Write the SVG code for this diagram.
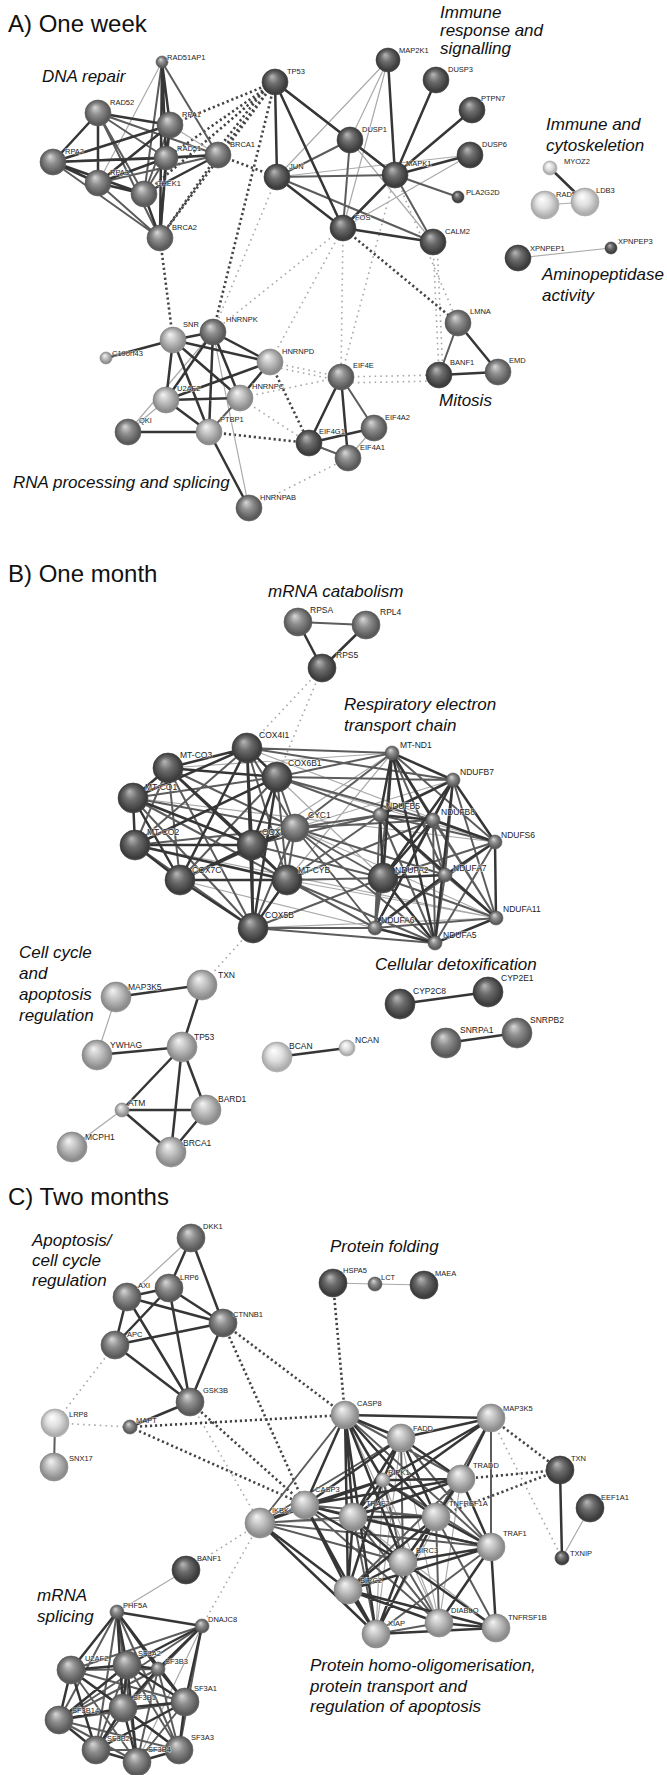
<svg xmlns="http://www.w3.org/2000/svg" width="667" height="1775" viewBox="0 0 667 1775">
<defs>
<radialGradient id="gd" cx="0.5" cy="0.5" r="0.55" fx="0.38" fy="0.28"><stop offset="0" stop-color="#b8b8b8"/><stop offset="0.4" stop-color="#6c6c6c"/><stop offset="0.85" stop-color="#3a3a3a"/><stop offset="1" stop-color="#555"/></radialGradient>
<radialGradient id="gm" cx="0.5" cy="0.5" r="0.55" fx="0.38" fy="0.28"><stop offset="0" stop-color="#d8d8d8"/><stop offset="0.4" stop-color="#8e8e8e"/><stop offset="0.85" stop-color="#575757"/><stop offset="1" stop-color="#707070"/></radialGradient>
<radialGradient id="gl" cx="0.5" cy="0.5" r="0.55" fx="0.38" fy="0.28"><stop offset="0" stop-color="#f4f4f4"/><stop offset="0.45" stop-color="#bdbdbd"/><stop offset="0.85" stop-color="#8a8a8a"/><stop offset="1" stop-color="#a0a0a0"/></radialGradient>
<radialGradient id="gw" cx="0.5" cy="0.5" r="0.55" fx="0.38" fy="0.28"><stop offset="0" stop-color="#ffffff"/><stop offset="0.45" stop-color="#e0e0e0"/><stop offset="0.85" stop-color="#ababab"/><stop offset="1" stop-color="#c0c0c0"/></radialGradient>
</defs>
<style>
text{font-family:"Liberation Sans",Arial,sans-serif;fill:#222;font-size:7.5px}
g[id^="a-"] text,g[id^="b-"] text,g[id^="c-"] text{stroke:#fff;stroke-width:1.4px;stroke-opacity:0.55;paint-order:stroke}
.lb text{font-size:8.5px}
.it{font-size:17px;font-style:italic;fill:#111}
.ti{font-size:24px;fill:#111}
.gd{fill:url(#gd);stroke:#3a3a3a;stroke-width:0.6}
.gm{fill:url(#gm);stroke:#555;stroke-width:0.6}
.gl{fill:url(#gl);stroke:#808080;stroke-width:0.6}
.gw{fill:url(#gw);stroke:#a0a0a0;stroke-width:0.6}
path{fill:none}
.s1{stroke:#363636;stroke-width:2.5}
.s2{stroke:#5c5c5c;stroke-width:2}
.s3{stroke:#aaaaaa;stroke-width:1.2}
.d1{stroke:#444;stroke-width:2.6;stroke-dasharray:2.2 2.8}
.d2{stroke:#a8a8a8;stroke-width:1.6;stroke-dasharray:1.6 4}
</style>
<rect width="667" height="1775" fill="#fff"/>
<g id="titles">
<text class="ti" x="8" y="32">A) One week</text>
<text class="ti" x="8" y="582">B) One month</text>
<text class="ti" x="8" y="1205">C) Two months</text>
<text class="it" x="42" y="82">DNA repair</text>
<text class="it" x="440" y="18">Immune</text>
<text class="it" x="440" y="36">response and</text>
<text class="it" x="440" y="54">signalling</text>
<text class="it" x="546" y="130">Immune and</text>
<text class="it" x="546" y="151">cytoskeletion</text>
<text class="it" x="542" y="280">Aminopeptidase</text>
<text class="it" x="542" y="301">activity</text>
<text class="it" x="439" y="406">Mitosis</text>
<text class="it" x="13" y="488">RNA processing and splicing</text>
<text class="it" x="268" y="597">mRNA catabolism</text>
<text class="it" x="344" y="710">Respiratory electron</text>
<text class="it" x="344" y="731">transport chain</text>
<text class="it" x="19" y="958">Cell cycle</text>
<text class="it" x="19" y="979">and</text>
<text class="it" x="19" y="1000">apoptosis</text>
<text class="it" x="19" y="1021">regulation</text>
<text class="it" x="375" y="970">Cellular detoxification</text>
<text class="it" x="32" y="1246">Apoptosis/</text>
<text class="it" x="32" y="1266">cell cycle</text>
<text class="it" x="32" y="1286">regulation</text>
<text class="it" x="330" y="1252">Protein folding</text>
<text class="it" x="37" y="1601">mRNA</text>
<text class="it" x="37" y="1622">splicing</text>
<text class="it" x="310" y="1671">Protein homo-oligomerisation,</text>
<text class="it" x="310" y="1692">protein transport and</text>
<text class="it" x="310" y="1712">regulation of apoptosis</text>
</g>
<g id="connectors">
<!-- A -->
<path class="d2" d="M277 177L213 332M343 228L213 332M343 228L270 362M395 175L341 377M433 242L439 375M437 242L443 375M395 175L458 323M343 228L341 377M270 362L341 377M270 366L341 381M240 398L341 377M240 398L309 443M249 508L348 458M341 377L439 375M341 383L439 381"/>
<path class="d1" d="M218 155L160 238M275 82L170 125M275 82L166 158M275 82L218 155M272 80L215 153M275 82L144 194M275 82L160 238M218 155L277 177M160 238L173 340M275 82L213 332M343 228L458 323M270 362L309 443M209 432L309 443"/>
<path class="s3" d="M162 62L98 183M170 125L218 155M277 177L388 60M350 140L388 60M388 60L343 228M470 155L343 228M277 177L470 155M350 140L433 242M545 205L585 202M518 258L611 248M374 428L348 458M166 400L128 432M213 332L249 508M213 332L128 432"/>
<path class="s2" d="M162 62L218 155M162 62L144 194M98 113L166 158M98 113L144 194M98 113L218 155M98 113L160 238M170 125L144 194M170 125L160 238M53 162L160 238M53 162L218 155M166 158L144 194M98 183L160 238M98 183L218 155M275 82L395 175M277 177L395 175M277 177L350 140M350 140L343 228M458 197L395 175M395 175L433 242M277 177L433 242M458 323L439 375M341 377L374 428M309 443L348 458M240 398L209 432"/>
<path class="s1" d="M162 62L170 125M162 62L166 158M162 62L160 238M98 113L170 125M98 113L53 162M98 113L98 183M170 125L53 162M170 125L98 183M170 125L166 158M53 162L98 183M53 162L166 158M53 162L144 194M166 158L218 155M166 158L160 238M166 158L98 183M98 183L144 194M144 194L160 238M144 194L218 155M275 82L277 177M275 82L343 228M275 82L350 140M277 177L343 228M350 140L395 175M388 60L395 175M436 80L395 175M472 110L395 175M470 155L395 175M395 175L343 228M343 228L433 242M550 168L585 202M458 323L498 372M439 375L498 372M341 377L309 443M341 377L348 458M309 443L374 428M173 340L106 358M173 340L213 332M173 340L270 362M173 340L166 400M173 340L240 398M173 340L209 432M213 332L270 362M213 332L166 400M213 332L240 398M213 332L209 432M270 362L166 400M270 362L240 398M166 400L240 398M166 400L209 432M128 432L209 432M209 432L249 508"/>
<!-- B -->
<path class="d2" d="M322 668L247 748M322 668L277 777M253 928L202 985"/>
<path class="s3" d="M247 748L495 842M277 777L495 842M168 768L392 753M133 798L495 842M295 828L496 918M295 828L453 780M287 880L496 918M287 880L392 753M253 928L496 918M135 845L496 918M180 880L435 943M252 845L392 753M277 777L383 878M116 997L97 1055M122 1110L72 1147"/>
<path class="s2" d="M298 622L366 625M247 748L295 828M247 748L135 845M247 748L287 880M168 768L295 828M168 768L135 845M168 768L180 880M168 768L253 928M277 777L133 798M277 777L295 828M277 777L180 880M277 777L287 880M133 798L295 828M133 798L287 880M133 798L253 928M295 828L135 845M295 828L287 880M295 828L253 928M135 845L253 928M252 845L287 880M392 753L495 842M392 753L445 875M392 753L496 918M392 753L375 928M453 780L445 875M453 780L496 918M453 780L375 928M380 815L495 842M380 815L445 875M380 815L375 928M380 815L435 943M433 820L445 875M433 820L496 918M433 820L435 943M495 842L383 878M495 842L375 928M495 842L435 943M383 878L496 918M383 878L375 928M445 875L496 918M445 875L435 943M496 918L375 928M247 748L392 753M247 748L453 780M277 777L392 753M277 777L453 780M277 777L380 815M277 777L433 820M295 828L392 753M295 828L380 815M295 828L433 820M295 828L383 878M295 828L445 875M295 828L375 928M295 828L435 943M287 880L380 815M287 880L383 878M287 880L375 928M287 880L435 943M287 880L433 820M253 928L375 928M253 928L435 943M253 928L383 878M252 845L380 815M252 845L383 878"/>
<path class="s1" d="M298 622L322 668M366 625L322 668M247 748L168 768M247 748L277 777M247 748L133 798M247 748L252 845M247 748L180 880M247 748L253 928M168 768L277 777M168 768L133 798M168 768L252 845M168 768L287 880M277 777L135 845M277 777L252 845M277 777L253 928M133 798L135 845M133 798L252 845M133 798L180 880M295 828L252 845M295 828L180 880M135 845L252 845M135 845L180 880M135 845L287 880M252 845L180 880M252 845L253 928M180 880L287 880M180 880L253 928M287 880L253 928M392 753L453 780M392 753L380 815M392 753L433 820M392 753L383 878M392 753L435 943M453 780L380 815M453 780L433 820M453 780L495 842M453 780L383 878M453 780L435 943M380 815L433 820M380 815L383 878M380 815L496 918M433 820L495 842M433 820L383 878M433 820L375 928M495 842L445 875M495 842L496 918M383 878L445 875M383 878L435 943M445 875L375 928M496 918L435 943M375 928L435 943M116 997L202 985M202 985L182 1047M97 1055L182 1047M182 1047L122 1110M182 1047L206 1110M182 1047L171 1152M122 1110L206 1110M122 1110L171 1152M206 1110L171 1152M277 1057L347 1048M400 1004L488 992M446 1043L517 1033"/>
<!-- C -->
<path class="d2" d="M115 1345L55 1423M55 1423L130 1427M190 1402L260 1523M491 1418L562 1558M260 1523L186 1570M260 1523L202 1626"/>
<path class="d1" d="M130 1427L345 1415M130 1427L305 1505M223 1323L345 1415M223 1323L305 1505M190 1402L305 1505M333 1283L345 1415M491 1418L560 1470M461 1479L560 1470M436 1517L560 1470"/>
<path class="s3" d="M191 1238L127 1297M333 1283L375 1284M375 1284L424 1285M590 1508L562 1558M186 1570L117 1612M345 1415L439 1623M401 1438L376 1634M401 1438L439 1623M383 1480L439 1623M383 1480L376 1634M353 1517L496 1628M260 1523L436 1517M461 1479L376 1634M461 1479L439 1623M202 1626L137 1762"/>
<path class="s2" d="M55 1423L54 1467M345 1415L461 1479M345 1415L491 1547M345 1415L260 1523M401 1438L260 1523M401 1438L403 1562M401 1438L491 1547M491 1418L436 1517M491 1418L491 1547M461 1479L403 1562M461 1479L348 1590M383 1480L403 1562M383 1480L491 1547M305 1505L436 1517M305 1505L439 1623M305 1505L491 1547M353 1517L376 1634M353 1517L439 1623M353 1517L260 1523M436 1517L439 1623M436 1517L496 1628M260 1523L403 1562M260 1523L491 1547M491 1547L376 1634M403 1562L439 1623M376 1634L439 1623M117 1612L59 1720M117 1612L96 1750M117 1612L179 1750M117 1612L137 1762M202 1626L71 1670M202 1626L123 1708M202 1626L179 1750M202 1626L59 1720M71 1670L158 1669M71 1670L185 1702M71 1670L137 1762M71 1670L179 1750M127 1665L96 1750M127 1665L179 1750M158 1669L179 1750M158 1669L96 1750M158 1669L59 1720M158 1669L137 1762M185 1702L59 1720M185 1702L137 1762M59 1720L137 1762M59 1720L179 1750M96 1750L179 1750"/>
<path class="s1" d="M191 1238L169 1288M191 1238L223 1323M127 1297L169 1288M127 1297L223 1323M127 1297L115 1345M127 1297L190 1402M169 1288L115 1345M169 1288L223 1323M169 1288L190 1402M115 1345L223 1323M115 1345L190 1402M223 1323L190 1402M190 1402L130 1427M560 1470L562 1558M345 1415L491 1418M345 1415L401 1438M345 1415L383 1480M345 1415L305 1505M345 1415L353 1517M345 1415L436 1517M345 1415L403 1562M345 1415L348 1590M345 1415L376 1634M401 1438L461 1479M401 1438L383 1480M401 1438L353 1517M401 1438L436 1517M401 1438L305 1505M401 1438L491 1418M491 1418L461 1479M491 1418L353 1517M491 1418L383 1480M461 1479L383 1480M461 1479L353 1517M461 1479L436 1517M461 1479L491 1547M461 1479L305 1505M383 1480L305 1505M383 1480L353 1517M383 1480L436 1517M383 1480L260 1523M383 1480L348 1590M305 1505L353 1517M305 1505L260 1523M305 1505L403 1562M305 1505L348 1590M305 1505L376 1634M353 1517L436 1517M353 1517L403 1562M353 1517L348 1590M353 1517L491 1547M436 1517L491 1547M436 1517L403 1562M436 1517L376 1634M436 1517L348 1590M260 1523L348 1590M260 1523L376 1634M491 1547L403 1562M491 1547L348 1590M491 1547L496 1628M403 1562L348 1590M403 1562L376 1634M403 1562L496 1628M348 1590L376 1634M348 1590L439 1623M376 1634L496 1628M439 1623L496 1628M491 1547L439 1623M348 1590L496 1628M117 1612L202 1626M117 1612L71 1670M117 1612L127 1665M117 1612L158 1669M117 1612L123 1708M117 1612L185 1702M202 1626L127 1665M202 1626L185 1702M202 1626L158 1669M71 1670L127 1665M71 1670L123 1708M71 1670L59 1720M71 1670L96 1750M127 1665L158 1669M127 1665L185 1702M127 1665L123 1708M127 1665L59 1720M127 1665L137 1762M158 1669L185 1702M158 1669L123 1708M185 1702L123 1708M185 1702L179 1750M185 1702L96 1750M123 1708L59 1720M123 1708L96 1750M123 1708L137 1762M123 1708L179 1750M59 1720L96 1750M96 1750L137 1762M137 1762L179 1750"/>
</g>
<g id="nodesA">
<g id="a-RAD51AP1"><circle class="gm" cx="162" cy="62" r="6"/><text x="167" y="60">RAD51AP1</text></g>
<g id="a-RAD52"><circle class="gm" cx="98" cy="113" r="13"/><text x="110" y="105">RAD52</text></g>
<g id="a-RPA2"><circle class="gm" cx="53" cy="162" r="13"/><text x="65" y="154">RPA2</text></g>
<g id="a-RPA3"><circle class="gm" cx="98" cy="183" r="13"/><text x="110" y="175">RPA3</text></g>
<g id="a-CHEK1"><circle class="gm" cx="144" cy="194" r="13"/><text x="156" y="186">CHEK1</text></g>
<g id="a-RPA1"><circle class="gm" cx="170" cy="125" r="13"/><text x="182" y="117">RPA1</text></g>
<g id="a-BRCA1"><circle class="gm" cx="218" cy="155" r="13"/><text x="230" y="147">BRCA1</text></g>
<g id="a-RAD51"><circle class="gm" cx="166" cy="158" r="12"/><text x="177" y="151">RAD51</text></g>
<g id="a-BRCA2"><circle class="gm" cx="160" cy="238" r="13"/><text x="172" y="230">BRCA2</text></g>
<g id="a-TP53"><circle class="gd" cx="275" cy="82" r="13"/><text x="287" y="74">TP53</text></g>
<g id="a-JUN"><circle class="gd" cx="277" cy="177" r="13"/><text x="289" y="169">JUN</text></g>
<g id="a-MAP2K1"><circle class="gd" cx="388" cy="60" r="12"/><text x="399" y="53">MAP2K1</text></g>
<g id="a-DUSP3"><circle class="gd" cx="436" cy="80" r="13"/><text x="448" y="72">DUSP3</text></g>
<g id="a-PTPN7"><circle class="gd" cx="472" cy="110" r="13"/><text x="481" y="101">PTPN7</text></g>
<g id="a-DUSP1"><circle class="gd" cx="350" cy="140" r="13"/><text x="362" y="132">DUSP1</text></g>
<g id="a-DUSP6"><circle class="gd" cx="470" cy="155" r="13"/><text x="482" y="147">DUSP6</text></g>
<g id="a-MAPK1"><circle class="gd" cx="395" cy="175" r="13"/><text x="406" y="166">MAPK1</text></g>
<g id="a-PLA2G2D"><circle class="gd" cx="458" cy="197" r="6"/><text x="466" y="195">PLA2G2D</text></g>
<g id="a-FOS"><circle class="gd" cx="343" cy="228" r="13"/><text x="355" y="220">FOS</text></g>
<g id="a-CALM2"><circle class="gd" cx="433" cy="242" r="13"/><text x="445" y="234">CALM2</text></g>
<g id="a-MYOZ2"><circle class="gw" cx="550" cy="168" r="7"/><text x="564" y="164">MYOZ2</text></g>
<g id="a-RAD54L2"><circle class="gw" cx="545" cy="205" r="14"/><text x="556" y="197">RAD54L2</text></g>
<g id="a-LDB3"><circle class="gw" cx="585" cy="202" r="14"/><text x="596" y="193">LDB3</text></g>
<g id="a-XPNPEP1"><circle class="gd" cx="518" cy="258" r="13"/><text x="530" y="251">XPNPEP1</text></g>
<g id="a-XPNPEP3"><circle class="gd" cx="611" cy="248" r="6"/><text x="618" y="244">XPNPEP3</text></g>
<g id="a-C19orf43"><circle class="gl" cx="106" cy="358" r="6"/><text x="112" y="356">C19orf43</text></g>
<g id="a-SNR"><circle class="gl" cx="173" cy="340" r="13"/><text x="183" y="327">SNR</text></g>
<g id="a-HNRNPK"><circle class="gm" cx="213" cy="332" r="13"/><text x="226" y="322">HNRNPK</text></g>
<g id="a-HNRNPD"><circle class="gl" cx="270" cy="362" r="13"/><text x="282" y="354">HNRNPD</text></g>
<g id="a-U2AF2"><circle class="gl" cx="166" cy="400" r="13"/><text x="177" y="391">U2AF2</text></g>
<g id="a-HNRNPC"><circle class="gl" cx="240" cy="398" r="13"/><text x="252" y="389">HNRNPC</text></g>
<g id="a-QKI"><circle class="gm" cx="128" cy="432" r="13"/><text x="139" y="423">QKI</text></g>
<g id="a-PTBP1"><circle class="gl" cx="209" cy="432" r="13"/><text x="220" y="422">PTBP1</text></g>
<g id="a-HNRNPAB"><circle class="gm" cx="249" cy="508" r="13"/><text x="260" y="500">HNRNPAB</text></g>
<g id="a-EIF4G1"><circle class="gd" cx="309" cy="443" r="13"/><text x="319" y="434">EIF4G1</text></g>
<g id="a-EIF4E"><circle class="gm" cx="341" cy="377" r="13"/><text x="353" y="368">EIF4E</text></g>
<g id="a-EIF4A2"><circle class="gm" cx="374" cy="428" r="13"/><text x="385" y="420">EIF4A2</text></g>
<g id="a-EIF4A1"><circle class="gm" cx="348" cy="458" r="13"/><text x="360" y="450">EIF4A1</text></g>
<g id="a-LMNA"><circle class="gm" cx="458" cy="323" r="13"/><text x="470" y="314">LMNA</text></g>
<g id="a-BANF1"><circle class="gd" cx="439" cy="375" r="13"/><text x="450" y="365">BANF1</text></g>
<g id="a-EMD"><circle class="gm" cx="498" cy="372" r="13"/><text x="509" y="363">EMD</text></g>
</g>
<g id="nodesB" class="lb">
<g id="b-RPSA"><circle class="gm" cx="298" cy="622" r="14"/><text x="310" y="613">RPSA</text></g>
<g id="b-RPL4"><circle class="gm" cx="366" cy="625" r="14"/><text x="380" y="615">RPL4</text></g>
<g id="b-RPS5"><circle class="gd" cx="322" cy="668" r="14"/><text x="336" y="658">RPS5</text></g>
<g id="b-MT-CO1"><circle class="gd" cx="133" cy="798" r="15"/><text x="145" y="790">MT-CO1</text></g>
<g id="b-MT-CO2"><circle class="gd" cx="135" cy="845" r="15"/><text x="147" y="835">MT-CO2</text></g>
<g id="b-COX7C"><circle class="gd" cx="180" cy="880" r="15"/><text x="192" y="873">COX7C</text></g>
<g id="b-MT-CO3"><circle class="gd" cx="168" cy="768" r="15"/><text x="180" y="758">MT-CO3</text></g>
<g id="b-COX4I1"><circle class="gd" cx="247" cy="748" r="15"/><text x="259" y="738">COX4I1</text></g>
<g id="b-COX6B1"><circle class="gd" cx="277" cy="777" r="15"/><text x="288" y="766">COX6B1</text></g>
<g id="b-COX5A"><circle class="gd" cx="252" cy="845" r="15"/><text x="262" y="835">COX5A</text></g>
<g id="b-CYC1"><circle class="gm" cx="295" cy="828" r="14"/><text x="308" y="818">CYC1</text></g>
<g id="b-COX5B"><circle class="gd" cx="253" cy="928" r="15"/><text x="265" y="918">COX5B</text></g>
<g id="b-MT-CYB"><circle class="gd" cx="287" cy="880" r="15"/><text x="298" y="873">MT-CYB</text></g>
<g id="b-NDUFA2"><circle class="gd" cx="383" cy="878" r="15"/><text x="395" y="873">NDUFA2</text></g>
<g id="b-MT-ND1"><circle class="gm" cx="392" cy="753" r="7"/><text x="400" y="748">MT-ND1</text></g>
<g id="b-NDUFB7"><circle class="gm" cx="453" cy="780" r="7"/><text x="460" y="775">NDUFB7</text></g>
<g id="b-NDUFB5"><circle class="gm" cx="380" cy="815" r="7"/><text x="386" y="809">NDUFB5</text></g>
<g id="b-NDUFB8"><circle class="gm" cx="433" cy="820" r="7"/><text x="441" y="815">NDUFB8</text></g>
<g id="b-NDUFS6"><circle class="gm" cx="495" cy="842" r="7"/><text x="501" y="838">NDUFS6</text></g>
<g id="b-NDUFA7"><circle class="gm" cx="445" cy="875" r="7"/><text x="453" y="871">NDUFA7</text></g>
<g id="b-NDUFA11"><circle class="gm" cx="496" cy="918" r="7"/><text x="503" y="912">NDUFA11</text></g>
<g id="b-NDUFA6"><circle class="gm" cx="375" cy="928" r="7"/><text x="381" y="923">NDUFA6</text></g>
<g id="b-NDUFA5"><circle class="gm" cx="435" cy="943" r="7"/><text x="443" y="938">NDUFA5</text></g>
<g id="b-TXN"><circle class="gl" cx="202" cy="985" r="15"/><text x="218" y="978">TXN</text></g>
<g id="b-MAP3K5"><circle class="gl" cx="116" cy="997" r="15"/><text x="128" y="990">MAP3K5</text></g>
<g id="b-TP53"><circle class="gl" cx="182" cy="1047" r="15"/><text x="194" y="1040">TP53</text></g>
<g id="b-YWHAG"><circle class="gl" cx="97" cy="1055" r="15"/><text x="110" y="1048">YWHAG</text></g>
<g id="b-BCAN"><circle class="gw" cx="277" cy="1057" r="15"/><text x="289" y="1049">BCAN</text></g>
<g id="b-ATM"><circle class="gl" cx="122" cy="1110" r="7"/><text x="128" y="1106">ATM</text></g>
<g id="b-BARD1"><circle class="gl" cx="206" cy="1110" r="15"/><text x="218" y="1102">BARD1</text></g>
<g id="b-MCPH1"><circle class="gl" cx="72" cy="1147" r="15"/><text x="85" y="1140">MCPH1</text></g>
<g id="b-BRCA1"><circle class="gl" cx="171" cy="1152" r="15"/><text x="183" y="1146">BRCA1</text></g>
<g id="b-CYP2E1"><circle class="gd" cx="488" cy="992" r="15"/><text x="501" y="981">CYP2E1</text></g>
<g id="b-CYP2C8"><circle class="gd" cx="400" cy="1004" r="15"/><text x="413" y="994">CYP2C8</text></g>
<g id="b-SNRPB2"><circle class="gm" cx="517" cy="1033" r="15"/><text x="530" y="1023">SNRPB2</text></g>
<g id="b-SNRPA1"><circle class="gm" cx="446" cy="1043" r="15"/><text x="460" y="1033">SNRPA1</text></g>
<g id="b-NCAN"><circle class="gw" cx="347" cy="1048" r="8"/><text x="355" y="1043">NCAN</text></g>
</g>
<g id="nodesC">
<g id="c-DKK1"><circle class="gm" cx="191" cy="1238" r="14"/><text x="203" y="1229">DKK1</text></g>
<g id="c-AXI"><circle class="gm" cx="127" cy="1297" r="14"/><text x="138" y="1288">AXI</text></g>
<g id="c-LRP6"><circle class="gm" cx="169" cy="1288" r="14"/><text x="180" y="1280">LRP6</text></g>
<g id="c-CTNNB1"><circle class="gm" cx="223" cy="1323" r="14"/><text x="233" y="1317">CTNNB1</text></g>
<g id="c-APC"><circle class="gm" cx="115" cy="1345" r="14"/><text x="127" y="1337">APC</text></g>
<g id="c-GSK3B"><circle class="gm" cx="190" cy="1402" r="14"/><text x="203" y="1393">GSK3B</text></g>
<g id="c-LRP8"><circle class="gw" cx="55" cy="1423" r="14"/><text x="69" y="1417">LRP8</text></g>
<g id="c-MAPT"><circle class="gm" cx="130" cy="1427" r="7"/><text x="136" y="1423">MAPT</text></g>
<g id="c-SNX17"><circle class="gl" cx="54" cy="1467" r="14"/><text x="69" y="1461">SNX17</text></g>
<g id="c-HSPA5"><circle class="gd" cx="333" cy="1283" r="14"/><text x="343" y="1273">HSPA5</text></g>
<g id="c-LCT"><circle class="gm" cx="375" cy="1284" r="7"/><text x="381" y="1280">LCT</text></g>
<g id="c-MAEA"><circle class="gd" cx="424" cy="1285" r="14"/><text x="435" y="1276">MAEA</text></g>
<g id="c-IKBKG"><circle class="gl" cx="260" cy="1523" r="15"/><text x="272" y="1513">IKBKG</text></g>
<g id="c-BIRC2"><circle class="gl" cx="348" cy="1590" r="14"/><text x="360" y="1583">BIRC2</text></g>
<g id="c-XIAP"><circle class="gl" cx="376" cy="1634" r="14"/><text x="388" y="1626">XIAP</text></g>
<g id="c-DIABLO"><circle class="gl" cx="439" cy="1623" r="14"/><text x="451" y="1613">DIABLO</text></g>
<g id="c-TNFRSF1B"><circle class="gl" cx="496" cy="1628" r="14"/><text x="508" y="1620">TNFRSF1B</text></g>
<g id="c-BIRC3"><circle class="gl" cx="403" cy="1562" r="14"/><text x="416" y="1553">BIRC3</text></g>
<g id="c-TRAF1"><circle class="gl" cx="491" cy="1547" r="14"/><text x="503" y="1536">TRAF1</text></g>
<g id="c-TRAF2"><circle class="gl" cx="353" cy="1517" r="14"/><text x="366" y="1506">TRAF2</text></g>
<g id="c-TNFRSF1A"><circle class="gl" cx="436" cy="1517" r="14"/><text x="449" y="1506">TNFRSF1A</text></g>
<g id="c-CASP3"><circle class="gl" cx="305" cy="1505" r="14"/><text x="315" y="1492">CASP3</text></g>
<g id="c-RIPK1"><circle class="gl" cx="383" cy="1480" r="7"/><text x="388" y="1475">RIPK1</text></g>
<g id="c-TRADD"><circle class="gl" cx="461" cy="1479" r="14"/><text x="473" y="1468">TRADD</text></g>
<g id="c-FADD"><circle class="gl" cx="401" cy="1438" r="14"/><text x="413" y="1431">FADD</text></g>
<g id="c-CASP8"><circle class="gl" cx="345" cy="1415" r="14"/><text x="357" y="1406">CASP8</text></g>
<g id="c-MAP3K5"><circle class="gl" cx="491" cy="1418" r="14"/><text x="503" y="1411">MAP3K5</text></g>
<g id="c-TXN"><circle class="gd" cx="560" cy="1470" r="14"/><text x="571" y="1461">TXN</text></g>
<g id="c-TXNIP"><circle class="gd" cx="562" cy="1558" r="7"/><text x="570" y="1556">TXNIP</text></g>
<g id="c-EEF1A1"><circle class="gd" cx="590" cy="1508" r="14"/><text x="601" y="1500">EEF1A1</text></g>
<g id="c-BANF1"><circle class="gd" cx="186" cy="1570" r="14"/><text x="197" y="1561">BANF1</text></g>
<g id="c-PHF5A"><circle class="gm" cx="117" cy="1612" r="7"/><text x="123" y="1608">PHF5A</text></g>
<g id="c-DNAJC8"><circle class="gm" cx="202" cy="1626" r="7"/><text x="208" y="1622">DNAJC8</text></g>
<g id="c-SF3B2"><circle class="gm" cx="96" cy="1750" r="14"/><text x="107" y="1741">SF3B2</text></g>
<g id="c-SF3A3"><circle class="gm" cx="179" cy="1750" r="14"/><text x="191" y="1740">SF3A3</text></g>
<g id="c-SF3B4"><circle class="gm" cx="137" cy="1762" r="14"/><text x="148" y="1752">SF3B4</text></g>
<g id="c-SF3B14"><circle class="gm" cx="59" cy="1720" r="14"/><text x="72" y="1713">SF3B14</text></g>
<g id="c-SF3B1"><circle class="gm" cx="123" cy="1708" r="14"/><text x="133" y="1700">SF3B1</text></g>
<g id="c-SF3A1"><circle class="gm" cx="185" cy="1702" r="14"/><text x="194" y="1691">SF3A1</text></g>
<g id="c-U2AF2"><circle class="gm" cx="71" cy="1670" r="14"/><text x="85" y="1661">U2AF2</text></g>
<g id="c-SF3A2"><circle class="gm" cx="127" cy="1665" r="14"/><text x="138" y="1656">SF3A2</text></g>
<g id="c-SF3B3"><circle class="gm" cx="158" cy="1669" r="7"/><text x="165" y="1664">SF3B3</text></g>
</g>
</svg>
